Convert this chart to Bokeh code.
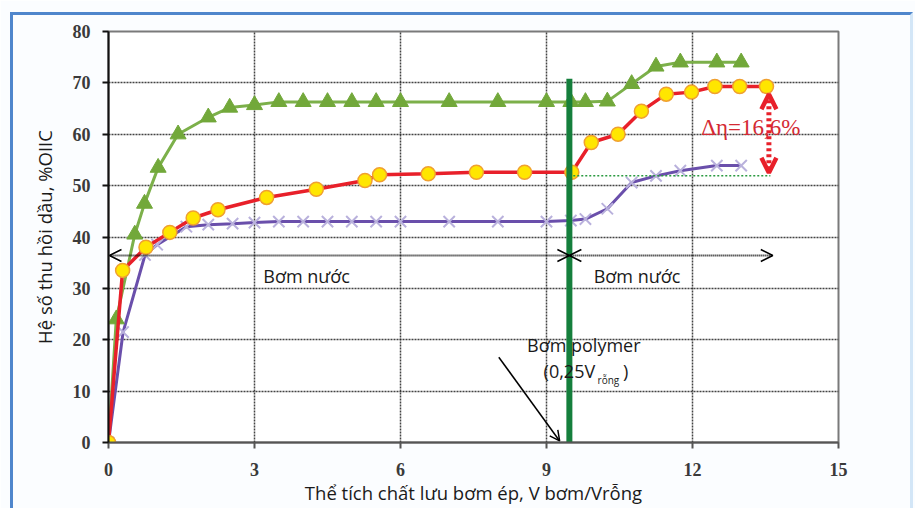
from bokeh.plotting import figure
from bokeh.models import Arrow, OpenHead, Label, Range1d, FixedTicker, InlineStyleSheet
from bokeh.embed import file_html
from bokeh.resources import INLINE

# ---- data ----
green_x = [0, 0.16, 0.54, 0.74, 1.02, 1.43, 2.05, 2.49, 3.0, 3.5, 4.0, 4.5, 5.0, 5.5, 6.0, 7.0, 8.0, 9.0, 9.5, 9.8, 10.25, 10.75, 11.25, 11.75, 12.5, 13.0]
green_y = [0, 24, 40.5, 46.5, 53.5, 60.0, 63.3, 65.2, 65.7, 66.3, 66.3, 66.3, 66.3, 66.3, 66.3, 66.3, 66.3, 66.3, 66.3, 66.3, 66.4, 69.8, 73.2, 74.0, 74.0, 74.0]

red_x = [0, 0.29, 0.77, 1.26, 1.74, 2.25, 3.25, 4.27, 5.27, 5.57, 6.57, 7.56, 8.55, 9.52, 9.92, 10.47, 10.95, 11.46, 11.98, 12.46, 12.97, 13.52]
red_y = [0, 33.5, 38.0, 40.9, 43.7, 45.3, 47.7, 49.3, 51.0, 52.1, 52.3, 52.6, 52.6, 52.6, 58.4, 60.0, 64.5, 67.8, 68.2, 69.3, 69.3, 69.3]

purple_x = [0, 0.3, 0.75, 1.0, 1.6, 2.05, 2.55, 3.0, 3.5, 4.0, 4.5, 5.0, 5.5, 6.0, 7.0, 8.0, 9.0, 9.5, 9.8, 10.25, 10.75, 11.25, 11.75, 12.5, 13.0]
purple_y = [0, 21.5, 36.5, 38.5, 42.0, 42.4, 42.6, 42.8, 43.0, 43.0, 43.0, 43.0, 43.0, 43.0, 43.0, 43.0, 43.0, 43.2, 43.5, 45.5, 50.6, 51.9, 52.9, 53.9, 53.9]

x_ticks = [0, 3, 6, 9, 12, 15]
y_ticks = [0, 10, 20, 30, 40, 50, 60, 70, 80]

polymer_x = 9.47          # start of polymer injection
water_arrow_y = 36.4      # level of the "Bơm nước" arrows
water_end_x = 13.65
delta_x = 13.57
delta_top = 69.3
delta_bottom = 52.0
base_level = 51.9

# ---- figure ----
p = figure(frame_width=730, frame_height=411,
           min_border_left=108, min_border_right=77, min_border_top=31, min_border_bottom=66,
           x_range=Range1d(0, 15), y_range=Range1d(0, 80),
           output_backend="svg", toolbar_location=None)
p.background_fill_color = "white"
p.border_fill_color = "#fbfdff"
p.outline_line_color = "#7a7a7a"
p.outline_line_width = 2

# decorative blue frame around the chart (CSS only, no layout effect)
p.stylesheets = [InlineStyleSheet(css="""
:host::after {
  content: "";
  position: absolute;
  left: 10px; top: 12px;
  width: 903px; height: 496px;
  box-sizing: border-box;
  border-left: 3px solid #4f86cc;
  border-top: 3px solid #4f86cc;
  border-right: 3px solid #d3e6f7;
  pointer-events: none;
}
""")]

for ax in (p.xaxis[0], p.yaxis[0]):
    ax.major_label_text_font = "Liberation Serif"
    ax.major_label_text_font_style = "bold"
    ax.major_label_text_font_size = "18px"
    ax.major_label_text_color = "#3a3a3a"
    ax.axis_label_text_font = "Open Sans"
    ax.axis_label_text_font_style = "normal"
    ax.axis_label_text_font_size = "18.5px"
    ax.axis_label_text_color = "#1a1a1a"
    ax.major_tick_in = 0
    ax.major_tick_out = 6
    ax.minor_tick_in = 0
    ax.minor_tick_out = 0
    ax.axis_line_width = 2
    ax.major_tick_line_width = 2

p.xaxis[0].ticker = FixedTicker(ticks=x_ticks)
p.yaxis[0].ticker = FixedTicker(ticks=y_ticks)
p.xaxis[0].axis_line_color = "#555555"
p.xaxis[0].major_tick_line_color = "#555555"
p.yaxis[0].axis_line_color = "#111111"
p.yaxis[0].major_tick_line_color = "#111111"
p.xaxis[0].axis_label = "Thể tích chất lưu bơm ép, V bơm/Vrỗng"
p.yaxis[0].axis_label = "Hệ số thu hồi dầu, %OIIC"
p.xaxis[0].major_label_standoff = 14
p.xaxis[0].axis_label_standoff = 1
p.yaxis[0].major_label_standoff = 12
p.yaxis[0].axis_label_standoff = 13

p.xgrid.grid_line_color = "#222222"
p.ygrid.grid_line_color = "#222222"
p.xgrid.grid_line_dash = "2 1"
p.ygrid.grid_line_dash = "2 1"
p.xgrid.grid_line_width = 1.5
p.ygrid.grid_line_width = 1.5
p.xgrid.grid_line_alpha = 0.85
p.ygrid.grid_line_alpha = 0.85

# ---- series ----
p.line(purple_x, purple_y, line_color="#6a4fab", line_width=3)
p.scatter(purple_x, purple_y, marker="x", size=16, line_color="#b9b1dc", line_width=2)

p.line(green_x, green_y, line_color="#7cb04a", line_width=3)
p.scatter(green_x, green_y, marker="triangle", size=16, fill_color="#72a83a", line_color="#72a83a")

p.line(red_x, red_y, line_color="#e8202a", line_width=3.5)
p.scatter(red_x, red_y, marker="circle", size=14, fill_color="#ffe600", line_color="#f0a030", line_width=1.5)

# ---- polymer injection line ----
p.segment(x0=[polymer_x], y0=[0], x1=[polymer_x], y1=[70.8], line_color="#157f3c", line_width=6)

# ---- water injection arrows ----
p.add_layout(Arrow(start=OpenHead(size=12, line_width=1.5, line_color="black"),
                   end=OpenHead(size=12, line_width=1.5, line_color="black"),
                   x_start=0.02, y_start=water_arrow_y, x_end=polymer_x, y_end=water_arrow_y,
                   line_color="black", line_width=2, line_dash="1 1"))
p.add_layout(Arrow(start=OpenHead(size=12, line_width=1.5, line_color="black"),
                   end=OpenHead(size=12, line_width=1.5, line_color="black"),
                   x_start=polymer_x, y_start=water_arrow_y, x_end=water_end_x, y_end=water_arrow_y,
                   line_color="black", line_width=2, line_dash="1 1"))

# ---- polymer pointer arrow ----
p.add_layout(Arrow(end=OpenHead(size=10, line_width=1.5, line_color="black"),
                   x_start=8.02, y_start=16.6, x_end=9.27, y_end=0.3,
                   line_color="black", line_width=1.5))

# ---- delta arrow and base line ----
p.segment(x0=[9.55], y0=[base_level], x1=[13.6], y1=[base_level],
          line_color="#2a9a40", line_width=1.5, line_dash="2 2")
p.add_layout(Arrow(start=OpenHead(size=15, line_width=4.5, line_color="#e8202a"),
                   end=OpenHead(size=15, line_width=4.5, line_color="#e8202a"),
                   x_start=delta_x, y_start=delta_top - 1.5, x_end=delta_x, y_end=delta_bottom + 0.5,
                   line_color="#e8202a", line_width=5, line_dash="3 3"))

# ---- labels ----
def add_label(x, y, text, size="18px", font="Open Sans", color="#1a1a1a", style="normal"):
    p.add_layout(Label(x=x, y=y, text=text, text_font=font, text_font_size=size,
                       text_color=color, text_font_style=style, text_baseline="middle"))

add_label(3.18, 32.5, "Bơm nước")
add_label(9.97, 32.5, "Bơm nước")
add_label(8.6, 18.9, "Bơm polymer")
add_label(8.94, 14.0, "(0,25V")
add_label(10.05, 12.2, "rỗng", size="10px")
add_label(10.57, 14.0, ")")
add_label(12.18, 61.3, "Δη=16,6%", size="23px", font="Liberation Serif", color="#d42a33")

open("out.html", "w").write(file_html(p, INLINE))
